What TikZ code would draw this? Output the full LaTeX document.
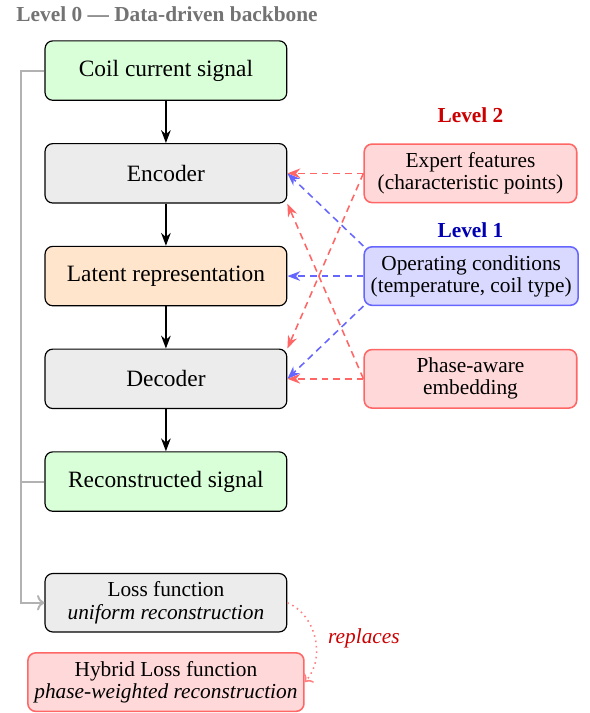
\documentclass[tikz,border=0pt]{standalone}
\usepackage{fontspec}
\setmainfont{Liberation Serif}
\usepackage{tikz}
\usetikzlibrary{arrows.meta, positioning, calc}
\usepackage{xcolor}

\begin{document}
\begin{tikzpicture}[
    block/.style={draw, rounded corners=4pt, minimum width=124pt, minimum height=30.5pt, font=\fontsize{12}{14}\selectfont, semithick},
    level/.style={draw=red!60, fill=red!15, rounded corners=4pt, minimum width=109pt, minimum height=30pt, align=center, font=\fontsize{10.95}{11.3}\selectfont, thick},
    lossbox/.style={draw, rounded corners=4pt, minimum width=124pt, minimum height=30pt, align=center, font=\fontsize{10.95}{11.3}\selectfont, semithick},
    arr/.style={-{Stealth}, thick},
    feed/.style={->, gray!60, line width=1pt},
    hint/.style={-{Stealth}, dash pattern=on 3.5pt off 2.5pt, thick},
    node distance=21.6pt
]
\useasboundingbox (-85.1pt,36.2pt) rectangle (217.4pt,-329.5pt);

\node[anchor=west, font=\fontsize{10.95}{12.5}\selectfont\bfseries, text=black!55] (title) at (-80.2pt,29pt) {Level 0 --- Data-driven backbone};

\node[block, fill=green!15] (coil) at (0,0) {Coil current signal};
\node[block, fill=gray!15, below=of coil] (enc) {Encoder};
\node[block, fill=orange!20, below=of enc] (lat) {Latent representation};
\node[block, fill=gray!15, below=of lat] (dec) {Decoder};
\node[block, fill=green!15, below=of dec] (rec) {Reconstructed signal};

\node[lossbox, fill=gray!15, below=31.3pt of rec] (loss) {Loss function\\\textit{uniform reconstruction}};
\node[lossbox, draw=red!60, fill=red!15, thick, below=10pt of loss] (hybrid) {Hybrid Loss function\\\textit{phase-weighted reconstruction}};

% expert knowledge side
\node[level, right=39pt of enc] (expert) {Expert features\\(characteristic points)};
\node[level, draw=blue!60, fill=blue!15, right=39pt of lat] (oper) {Operating conditions\\(temperature, coil type)};
\node[level, right=39pt of dec] (phase) {Phase-aware\\embedding};

\node[above=7pt of expert, font=\fontsize{10.95}{12.5}\selectfont\bfseries, text=red!80!black] (lvltwo) {Level 2};
\node[anchor=south, font=\fontsize{10.95}{12.5}\selectfont\bfseries, text=blue!70!black] (lvlone) at ($(expert |- oper.north)+(0,1pt)$) {Level 1};

\draw[arr] (coil) -- (enc);
\draw[arr] (enc) -- (lat);
\draw[arr] (lat) -- (dec);
\draw[arr] (dec) -- (rec);

\coordinate[left=12pt of coil.west] (rail);
\draw[feed] (coil.west) -- (rail) |- (loss.west);
\draw[gray!60, line width=1pt] (rec.west) -- (rec.west -| rail);

\draw[hint, red!60] (expert.west) -- (enc.east);
\draw[hint, red!60] (expert.west) -- (dec.north east);
\draw[hint, red!60] (phase.west) -- (dec.east);
\draw[hint, red!60] (phase.west) -- (enc.south east);
\draw[hint, blue!60] (oper.north west) -- (enc.east);
\draw[hint, blue!60] (oper.west) -- (lat.east);
\draw[hint, blue!60] (oper.south west) -- (dec.east);

\draw[->, dotted, thick, red!50] (loss.east) to[bend left=55] node[right, xshift=3pt, font=\fontsize{10.95}{12.5}\selectfont\itshape, text=red!80!black]{replaces} (hybrid.east);
\end{tikzpicture}
\end{document}
